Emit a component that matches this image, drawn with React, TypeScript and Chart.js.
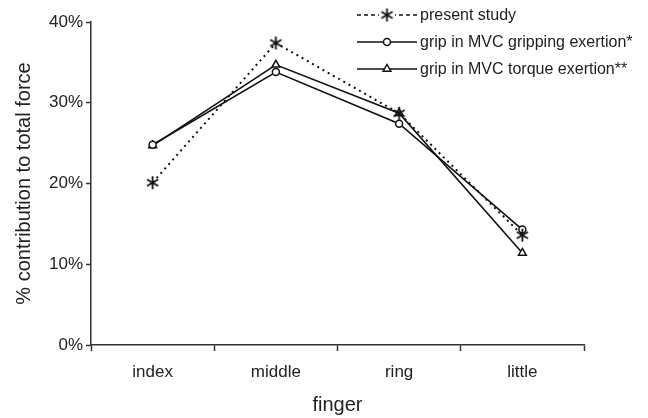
import React, { useEffect, useRef } from "react";
import { Chart, registerables } from "chart.js";

Chart.register(...registerables);

const fingers = ["index", "middle", "ring", "little"];
const presentStudy = [20.1, 37.4, 28.7, 13.6];
const gripGripping = [24.8, 33.8, 27.4, 14.3];
const gripTorque = [24.7, 34.7, 28.7, 11.4];
const seriesLabels = [
  "present study",
  "grip in MVC gripping exertion*",
  "grip in MVC torque exertion**",
];
const yTicks = [0, 10, 20, 30, 40];

const FONT = '"Liberation Sans", Arial, Helvetica, sans-serif';
const INK = "#111";

function makeAsterisk(size: number, lw: number): HTMLCanvasElement {
  const c = document.createElement("canvas");
  c.width = size;
  c.height = size;
  const g = c.getContext("2d")!;
  g.strokeStyle = INK;
  g.lineWidth = lw;
  g.lineCap = "butt";
  const m = size / 2;
  const r = size / 2 - 1;
  g.beginPath();
  g.moveTo(m, m - r);
  g.lineTo(m, m + r);
  const dx = r * Math.cos(Math.PI / 6);
  const dy = r * Math.sin(Math.PI / 6);
  g.moveTo(m - dx, m - dy);
  g.lineTo(m + dx, m + dy);
  g.moveTo(m - dx, m + dy);
  g.lineTo(m + dx, m - dy);
  g.stroke();
  return c;
}

export default function App() {
  const ref = useRef<HTMLCanvasElement | null>(null);

  useEffect(() => {
    if (!ref.current) return;
    const star = makeAsterisk(15, 1.8);

    const legendPlugin = {
      id: "customLegend",
      afterDraw(chart: any) {
        const ctx = chart.ctx as CanvasRenderingContext2D;
        const rows = [15, 42, 69];
        const x0 = 357;
        const x1 = 417;
        const xm = 387;
        ctx.save();
        chart.data.datasets.forEach((ds: any, i: number) => {
          const y = rows[i];
          ctx.strokeStyle = INK;
          ctx.lineWidth = i === 0 ? 1.5 : ds.borderWidth;
          ctx.setLineDash(i === 0 ? [4, 3] : []);
          ctx.beginPath();
          ctx.moveTo(x0, y);
          ctx.lineTo(x1, y);
          ctx.stroke();
          ctx.setLineDash([]);
          if (i === 0) {
            ctx.fillStyle = "#fff";
            ctx.fillRect(xm - 8, y - 7, 16, 14);
            ctx.drawImage(star, xm - 7.5, y - 7.5);
          } else if (i === 1) {
            ctx.fillStyle = "#fff";
            ctx.lineWidth = 1.5;
            ctx.beginPath();
            ctx.arc(xm, y, 3.5, 0, Math.PI * 2);
            ctx.fill();
            ctx.stroke();
          } else {
            ctx.fillStyle = "#fff";
            ctx.lineWidth = 1.5;
            const r = 4.5;
            ctx.beginPath();
            ctx.moveTo(xm, y - r);
            ctx.lineTo(xm + r * 0.866, y + r * 0.5);
            ctx.lineTo(xm - r * 0.866, y + r * 0.5);
            ctx.closePath();
            ctx.fill();
            ctx.stroke();
          }
          ctx.fillStyle = "#222";
          ctx.font = `16px ${FONT}`;
          ctx.textBaseline = "middle";
          ctx.textAlign = "left";
          ctx.fillText(ds.label, 420, y + 1);
        });
        ctx.restore();
      },
    };

    const chart = new Chart(ref.current, {
      type: "line",
      data: {
        labels: fingers,
        datasets: [
          {
            label: seriesLabels[0],
            data: presentStudy,
            borderColor: INK,
            borderWidth: 2,
            borderDash: [2, 4],
            pointStyle: star as any,
            pointRadius: 7,
            backgroundColor: INK,
          },
          {
            label: seriesLabels[1],
            data: gripGripping,
            borderColor: INK,
            borderWidth: 1.6,
            pointStyle: "circle",
            pointRadius: 3.5,
            pointBorderWidth: 1.5,
            pointBackgroundColor: "#fff",
            pointBorderColor: INK,
          },
          {
            label: seriesLabels[2],
            data: gripTorque,
            borderColor: INK,
            borderWidth: 1.6,
            pointStyle: "triangle",
            pointRadius: 4.5,
            pointBorderWidth: 1.5,
            pointBackgroundColor: "#fff",
            pointBorderColor: INK,
          },
        ],
      },
      options: {
        animation: false,
        responsive: false,
        devicePixelRatio: 1,
        layout: { padding: { top: 22, right: 64, left: 0, bottom: 0 } },
        plugins: {
          legend: { display: false },
          tooltip: { enabled: false },
        },
        elements: { line: { tension: 0 } },
        scales: {
          x: {
            type: "category",
            offset: true,
            grid: {
              offset: true,
              drawOnChartArea: false,
              drawTicks: true,
              tickLength: 6,
              tickColor: "#333",
              tickWidth: 1.5,
            },
            border: { display: true, color: "#333", width: 1.5 },
            ticks: {
              font: { family: FONT, size: 17 },
              color: "#222",
              padding: 11,
            },
            title: {
              display: true,
              text: "finger",
              font: { family: FONT, size: 20 },
              color: "#222",
              padding: { top: 0, bottom: 1 },
            },
            afterFit: (s: any) => {
              s.height = 73;
            },
          },
          y: {
            min: 0,
            max: 40,
            afterBuildTicks: (s: any) => {
              s.ticks = yTicks.map((v) => ({ value: v }));
            },
            grid: {
              drawOnChartArea: false,
              drawTicks: true,
              tickLength: 5,
              tickColor: "#333",
              tickWidth: 1.5,
            },
            border: { display: true, color: "#333", width: 1.5 },
            ticks: {
              font: { family: FONT, size: 17 },
              color: "#222",
              padding: 3,
              callback: (v: any) => `${v}%`,
            },
            title: {
              display: true,
              text: "% contribution to total force",
              font: { family: FONT, size: 20 },
              color: "#222",
              padding: { top: 12, bottom: 0 },
            },
            afterFit: (s: any) => {
              s.width = 91;
            },
          },
        },
      },
      plugins: [legendPlugin],
    });
    return () => chart.destroy();
  }, []);

  return (
    <div style={{ position: "fixed", left: 0, top: 0, width: 648, height: 418, background: "#fff" }}>
      <canvas ref={ref} width={648} height={418} style={{ display: "block" }} />
    </div>
  );
}
